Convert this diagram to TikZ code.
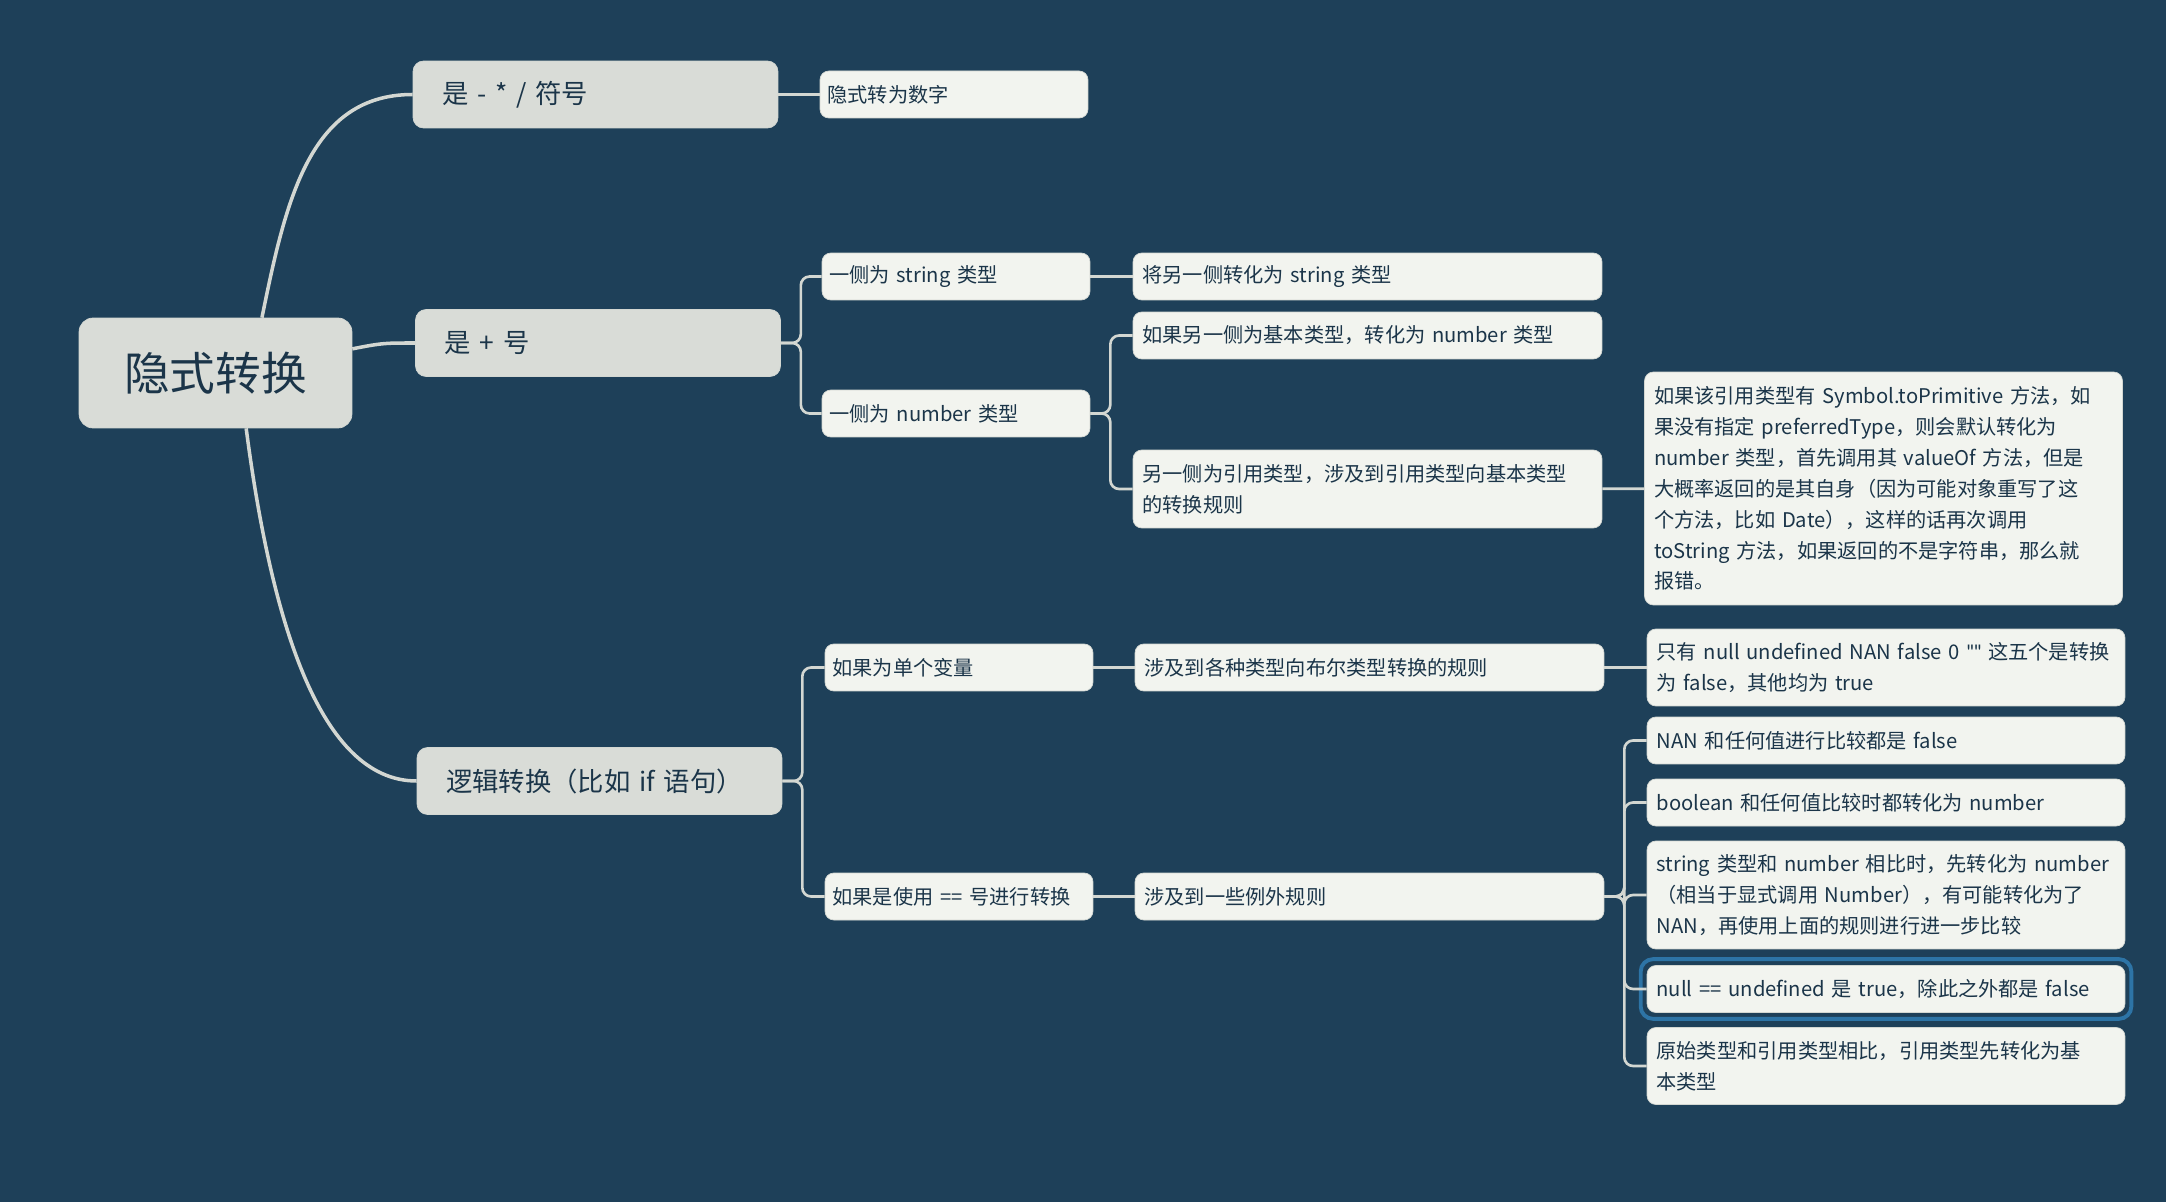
\documentclass[tikz,border=0pt]{standalone}
\usepackage{fontspec}
\setmainfont{Noto Sans CJK SC}
\newfontfamily\latinfont{Lato}
\definecolor{bgblue}{HTML}{1E4059}
\definecolor{mainfill}{HTML}{D9DCD7}
\definecolor{subfill}{HTML}{F2F4EF}
\definecolor{linkgrey}{HTML}{D3D7D2}
\definecolor{ink}{HTML}{1B3549}
\definecolor{selblue}{HTML}{2D74A6}
\tikzset{
  rootbox/.style={fill=mainfill, draw=linkgrey, rounded corners=8pt, text=ink,
    minimum width=5.46cm, minimum height=2.2cm, font=\fontsize{26}{30}\selectfont},
  mainbox/.style={fill=mainfill, draw=linkgrey, rounded corners=6pt, text=ink,
    inner xsep=0.58cm, text width=6.14cm, align=left, minimum height=1.34cm,
    font=\fontsize{15}{19}\selectfont},
  subbox/.style={fill=subfill, draw=linkgrey, rounded corners=5pt, text=ink,
    inner xsep=0.19cm, inner ysep=0.1cm, align=left, minimum height=0.94cm,
    font=\fontsize{11.5}{17.6}\selectfont},
  colA/.style={subbox, inner xsep=0.15cm, text width=5.06cm},
  colB/.style={subbox, text width=9.0cm},
  colC/.style={subbox, text width=9.18cm},
  branch/.style={draw=linkgrey, line width=2pt},
  link/.style={draw=linkgrey, line width=1.5pt, rounded corners=5pt},
}
\begin{document}
\begin{tikzpicture}[x=0.02cm, y=-0.02cm]
  \fill[bgblue] (0,0) rectangle (2166,1202);
  \useasboundingbox (0,0) rectangle (2166,1202);
  % nodes
  \node[rootbox] (root) at (215.5,373) {隐式转换};
  \node[mainbox] (minus) at (595.5,94.5) {是 - * / 符号};
  \node[mainbox] (plus) at (598,343) {是 + 号};
  \node[mainbox] (logic) at (599.5,781) {逻辑转换（比如 if 语句）};
  \node[colA] (minusnum) at (954,94.5) {隐式转为数字};
  \node[colA] (plusstr) at (956,276.5) {一侧为 string 类型};
  \node[colA] (plusnum) at (956,413.5) {一侧为 number 类型};
  \node[colB] (strres) at (1367.5,276.5) {将另一侧转化为 string 类型};
  \node[colB] (numbase) at (1367.5,335.5) {如果另一侧为基本类型，转化为 number 类型};
  \node[colB, minimum height=1.56cm] (numref) at (1367.5,489)
    {另一侧为引用类型，涉及到引用类型向基本类型\\的转换规则};
  \node[colC, minimum height=4.66cm] (refnote) at (1883.5,488.5)
    {如果该引用类型有 Symbol.toPrimitive 方法，如\\
     果没有指定 preferredType，则会默认转化为\\
     number 类型，首先调用其 valueOf 方法，但是\\
     大概率返回的是其自身（因为可能对象重写了这\\
     个方法，比如 Date），这样的话再次调用\\
     toString 方法，如果返回的不是字符串，那么就\\
     报错。};
  \node[colA] (single) at (959,667.5) {如果为单个变量};
  \node[colA] (eqeq) at (959,896.5) {如果是使用 == 号进行转换};
  \node[colB] (booltype) at (1369.5,667.5) {涉及到各种类型向布尔类型转换的规则};
  \node[colB] (exc) at (1369.5,896.5) {涉及到一些例外规则};
  \node[colC, minimum height=1.54cm] (falsy) at (1886,667.5)
    {只有 null undefined NAN false 0 {\latinfont ""} 这五个是转换\\为 false，其他均为 true};
  \node[colC] (nanc) at (1886,740.5) {NAN 和任何值进行比较都是 false};
  \node[colC] (boolc) at (1886,802.5) {boolean 和任何值比较时都转化为 number};
  \node[colC, minimum height=2.16cm] (strc) at (1886,895)
    {string 类型和 number 相比时，先转化为 number\\（相当于显式调用 Number），有可能转化为了\\NAN，再使用上面的规则进行进一步比较};
  \node[colC] (nulc) at (1886,989) {null == undefined 是 true，除此之外都是 false};
  \node[colC, minimum height=1.54cm] (primc) at (1886,1066)
    {原始类型和引用类型相比，引用类型先转化为基\\本类型};
  \draw[selblue, line width=2.2pt, rounded corners=7pt]
    ([shift={(-6,-6)}]nulc.north west) rectangle ([shift={(6,6)}]nulc.south east);
  % main branches
  \begin{scope}[branch]
    \draw (root.50) .. controls +(24,-118) and +(-103,0) .. (minus.west);
    \draw (root.10) .. controls +(30,-6) and +(-30,0) .. (plus.west);
    \draw (root.-61) .. controls +(25,192) and +(-97,0) .. (logic.west);
  \end{scope}
  % sub links
  \begin{scope}[link]
    \draw (minus) to (minusnum);
    \draw (plus.east) -- ++(20,0) |- (plusstr.west);
    \draw (plus.east) -- ++(20,0) |- (plusnum.west);
    \draw (plusstr) to (strres);
    \draw (plusnum.east) -- ++(20,0) |- (numbase.west);
    \draw (plusnum.east) -- ++(20,0) |- (numref.west);
    \draw (numref) to (refnote);
    \draw (logic.east) -- ++(20,0) |- (single.west);
    \draw (logic.east) -- ++(20,0) |- (eqeq.west);
    \draw (single) to (booltype);
    \draw (booltype) to (falsy);
    \draw (eqeq) to (exc);
    \draw (exc.east) -- ++(20,0) |- (nanc.west);
    \draw (exc.east) -- ++(20,0) |- (boolc.west);
    \draw (exc.east) -- ++(20,0) |- (strc.west);
    \draw (exc.east) -- ++(20,0) |- (nulc.west);
    \draw (exc.east) -- ++(20,0) |- (primc.west);
  \end{scope}
\end{tikzpicture}
\end{document}
